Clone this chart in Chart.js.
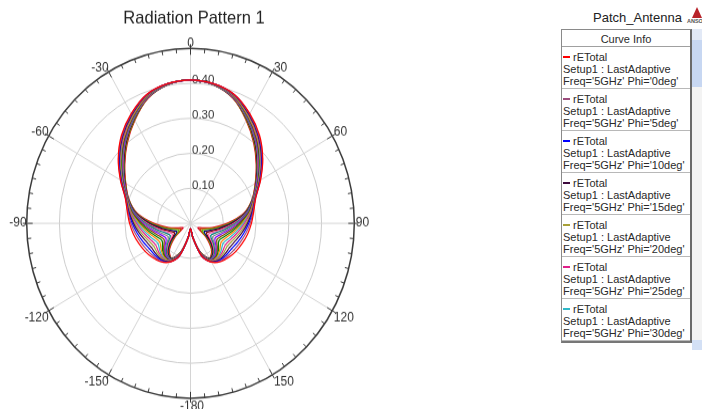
<!DOCTYPE html>
<html><head><meta charset="utf-8">
<script src="https://cdn.jsdelivr.net/npm/chart.js@4.4.1/dist/chart.umd.min.js"></script>
<style>
html,body{margin:0;padding:0;background:#fff;}
body{width:702px;height:409px;overflow:hidden;position:relative;font-family:"Liberation Sans",Arial,sans-serif;}
#plot{position:absolute;left:0;top:0;width:380px;height:383px;transform:scaleY(1.0679);transform-origin:0 0;}
#plot canvas{display:block;}
#ptitle{position:absolute;left:593px;top:10px;font-size:13px;line-height:15px;color:#222;white-space:nowrap;}
#tri{position:absolute;left:692px;top:7px;width:0;height:0;border-left:5px solid transparent;border-right:5px solid transparent;border-bottom:11px solid #b8232a;}
#lt{position:absolute;left:687px;top:18px;font-size:5.5px;font-weight:bold;color:#555;white-space:nowrap;}
#box{position:absolute;left:561px;top:29px;width:128px;height:311px;border:1px solid #8a8a8a;border-right:2px solid #6a6a6a;border-bottom:2px solid #777;background:#fff;font-size:11px;color:#2a2a2a;overflow:hidden;}
#hdr{height:16px;line-height:18px;text-align:center;border-bottom:1px solid #a0a0a0;}
.ent{height:37px;padding:4px 0 0 1px;border-bottom:1px solid #b8b8b8;line-height:12px;white-space:nowrap;}
.l1{position:relative;padding-left:10px;}
.dash{position:absolute;left:0;top:5px;width:7px;height:2px;}
#sb{position:absolute;left:692px;top:29px;width:10px;height:321px;background:#f3f3f3;}
#sbt{height:11px;background:#e2e9f6;}
#sbh{height:47px;background:#c7d7f2;}
#sbb{position:absolute;left:0;bottom:0;width:10px;height:10px;background:#d3e0f5;}
</style>
</head><body>
<div id="plot"><canvas id="c" width="380" height="383" style="width:380px;height:383px"></canvas></div>
<div id="ptitle">Patch_Antenna</div>
<div id="tri"></div><div id="lt">ANSOFT</div>
<div id="box"><div id="hdr">Curve Info</div><div id="entries"></div></div>
<div id="sb"><div id="sbt"></div><div id="sbh"></div><div id="sbb"></div></div>
<script>
// theta categories, clockwise from top (0 deg)
const thetaCategories = ['0','10','20','30','40','50','60','70','80','90','100','110','120','130','140','150','160','170','180','-170','-160','-150','-140','-130','-120','-110','-100','-90','-80','-70','-60','-50','-40','-30','-20','-10'];
const thetaLabels = ['0','30','60','90','120','150','-180','-150','-120','-90','-60','-30'];
const radialTickValues = [0.1,0.2,0.3,0.4];
const radialTickLabels = ['0.10','0.20','0.30','0.40'];
const phis = [0,5,10,15,20,25,30,35,40,45,50,55,60,65,70,75,80,85,90];
const colors = ['#ff0000','#9c4c7c','#0000ff','#3e0a3e','#a8a038','#e0208a','#30b8c8','#ff8000','#008000','#804000','#8000ff','#808080','#008080','#ff60b0','#800000','#000080','#60c000','#c04000','#e00020'];

// rETotal for each Phi cut, values at thetaCategories
const phi0  = [0.410,0.405,0.392,0.362,0.328,0.288,0.247,0.212,0.196,0.186,0.177,0.168,0.160,0.152,0.143,0.128,0.100,0.042,0.015,0.042,0.100,0.128,0.143,0.152,0.160,0.168,0.177,0.186,0.196,0.212,0.247,0.288,0.328,0.362,0.392,0.405];
const phi5  = [0.410,0.405,0.391,0.361,0.326,0.287,0.246,0.211,0.194,0.182,0.171,0.161,0.153,0.147,0.141,0.127,0.099,0.042,0.015,0.042,0.099,0.127,0.141,0.147,0.153,0.161,0.171,0.182,0.194,0.211,0.246,0.287,0.326,0.361,0.391,0.405];
const phi10 = [0.410,0.405,0.391,0.360,0.325,0.285,0.245,0.211,0.193,0.178,0.165,0.154,0.145,0.142,0.138,0.127,0.099,0.042,0.015,0.042,0.099,0.127,0.138,0.142,0.145,0.154,0.165,0.178,0.193,0.211,0.245,0.285,0.325,0.360,0.391,0.405];
const phi15 = [0.410,0.405,0.390,0.358,0.323,0.284,0.244,0.210,0.191,0.174,0.159,0.146,0.138,0.137,0.136,0.126,0.098,0.042,0.015,0.042,0.098,0.126,0.136,0.137,0.138,0.146,0.159,0.174,0.191,0.210,0.244,0.284,0.323,0.358,0.390,0.405];
const phi20 = [0.410,0.405,0.389,0.357,0.322,0.282,0.243,0.209,0.189,0.170,0.153,0.139,0.130,0.132,0.133,0.125,0.097,0.042,0.015,0.042,0.097,0.125,0.133,0.132,0.130,0.139,0.153,0.170,0.189,0.209,0.243,0.282,0.322,0.357,0.389,0.405];
const phi25 = [0.410,0.405,0.389,0.356,0.320,0.281,0.242,0.209,0.187,0.165,0.147,0.132,0.123,0.127,0.131,0.124,0.097,0.042,0.015,0.042,0.097,0.124,0.131,0.127,0.123,0.132,0.147,0.165,0.187,0.209,0.242,0.281,0.320,0.356,0.389,0.405];
const phi30 = [0.410,0.404,0.388,0.355,0.319,0.279,0.241,0.208,0.186,0.161,0.141,0.125,0.115,0.122,0.129,0.124,0.096,0.042,0.015,0.042,0.096,0.124,0.129,0.122,0.115,0.125,0.141,0.161,0.186,0.208,0.241,0.279,0.319,0.355,0.388,0.404];
const phi35 = [0.410,0.404,0.387,0.353,0.317,0.278,0.240,0.207,0.184,0.157,0.135,0.117,0.108,0.117,0.126,0.123,0.095,0.042,0.015,0.042,0.095,0.123,0.126,0.117,0.108,0.117,0.135,0.157,0.184,0.207,0.240,0.278,0.317,0.353,0.387,0.404];
const phi40 = [0.410,0.404,0.387,0.352,0.316,0.276,0.239,0.207,0.182,0.153,0.129,0.110,0.100,0.112,0.124,0.122,0.095,0.042,0.015,0.042,0.095,0.122,0.124,0.112,0.100,0.110,0.129,0.153,0.182,0.207,0.239,0.276,0.316,0.352,0.387,0.404];
const phi45 = [0.410,0.404,0.386,0.351,0.314,0.275,0.238,0.206,0.181,0.149,0.123,0.103,0.093,0.107,0.122,0.122,0.094,0.041,0.015,0.041,0.094,0.122,0.122,0.107,0.093,0.103,0.123,0.149,0.181,0.206,0.238,0.275,0.314,0.351,0.386,0.404];
const phi50 = [0.410,0.404,0.385,0.350,0.312,0.274,0.236,0.205,0.179,0.145,0.116,0.096,0.086,0.102,0.119,0.121,0.093,0.041,0.015,0.041,0.093,0.121,0.119,0.102,0.086,0.096,0.116,0.145,0.179,0.205,0.236,0.274,0.312,0.350,0.385,0.404];
const phi55 = [0.410,0.404,0.385,0.349,0.311,0.272,0.235,0.205,0.177,0.141,0.110,0.089,0.078,0.097,0.117,0.120,0.093,0.041,0.015,0.041,0.093,0.120,0.117,0.097,0.078,0.089,0.110,0.141,0.177,0.205,0.235,0.272,0.311,0.349,0.385,0.404];
const phi60 = [0.410,0.403,0.384,0.347,0.309,0.271,0.234,0.204,0.175,0.137,0.104,0.081,0.071,0.092,0.114,0.119,0.092,0.041,0.015,0.041,0.092,0.119,0.114,0.092,0.071,0.081,0.104,0.137,0.175,0.204,0.234,0.271,0.309,0.347,0.384,0.403];
const phi65 = [0.410,0.403,0.383,0.346,0.308,0.269,0.233,0.203,0.174,0.133,0.098,0.074,0.063,0.087,0.112,0.119,0.091,0.041,0.015,0.041,0.091,0.119,0.112,0.087,0.063,0.074,0.098,0.133,0.174,0.203,0.233,0.269,0.308,0.346,0.383,0.403];
const phi70 = [0.410,0.403,0.383,0.345,0.306,0.268,0.232,0.203,0.172,0.128,0.092,0.067,0.056,0.082,0.110,0.118,0.091,0.041,0.015,0.041,0.091,0.118,0.110,0.082,0.056,0.067,0.092,0.128,0.172,0.203,0.232,0.268,0.306,0.345,0.383,0.403];
const phi75 = [0.410,0.403,0.382,0.344,0.305,0.266,0.231,0.202,0.170,0.124,0.086,0.060,0.048,0.077,0.107,0.117,0.090,0.041,0.015,0.041,0.090,0.117,0.107,0.077,0.048,0.060,0.086,0.124,0.170,0.202,0.231,0.266,0.305,0.344,0.382,0.403];
const phi80 = [0.410,0.403,0.381,0.342,0.303,0.265,0.230,0.201,0.169,0.120,0.080,0.052,0.041,0.072,0.105,0.116,0.089,0.041,0.015,0.041,0.089,0.116,0.105,0.072,0.041,0.052,0.080,0.120,0.169,0.201,0.230,0.265,0.303,0.342,0.381,0.403];
const phi85 = [0.410,0.403,0.381,0.341,0.302,0.263,0.229,0.201,0.167,0.116,0.074,0.045,0.033,0.067,0.102,0.116,0.089,0.041,0.015,0.041,0.089,0.116,0.102,0.067,0.033,0.045,0.074,0.116,0.167,0.201,0.229,0.263,0.302,0.341,0.381,0.403];
const phi90 = [0.410,0.402,0.380,0.340,0.300,0.262,0.228,0.200,0.165,0.112,0.068,0.038,0.026,0.062,0.100,0.115,0.088,0.040,0.015,0.040,0.088,0.115,0.100,0.062,0.026,0.038,0.068,0.112,0.165,0.200,0.228,0.262,0.300,0.340,0.380,0.402];
const series = [phi0,phi5,phi10,phi15,phi20,phi25,phi30,phi35,phi40,phi45,phi50,phi55,phi60,phi65,phi70,phi75,phi80,phi85,phi90];

const FONT = '"Liberation Sans", Arial, sans-serif';

const polarDecor = {
  id: 'polarDecor',
  beforeDatasetsDraw(chart) {
    const s = chart.scales.r, ctx = chart.ctx, R = s.drawingArea;
    ctx.save();
    ctx.strokeStyle = '#3a3a3a'; ctx.lineWidth = 1;
    for (let d = 0; d < 360; d += 5) {
      const major = d % 30 === 0;
      const a = s.getPointPosition(d / 10, R - (major ? 6 : 4));
      const b = s.getPointPosition(d / 10, R + (major ? 4 : 0));
      ctx.beginPath(); ctx.moveTo(a.x, a.y); ctx.lineTo(b.x, b.y); ctx.stroke();
    }
    ctx.fillStyle = '#333';
    ctx.font = '11.5px ' + FONT;
    ctx.textAlign = 'left'; ctx.textBaseline = 'middle';
    radialTickValues.forEach((v, i) => {
      const y = s.yCenter - s.getDistanceFromCenterForValue(v);
      ctx.fillText(radialTickLabels[i], s.xCenter + 1.5, y - 3);
    });
    ctx.font = '12px ' + FONT;
    thetaLabels.forEach((t, j) => {
      const deg = j * 30;
      const p = s.getPointPosition(j * 3, R);
      let align, dx, dy;
      if (deg === 0) { align = 'center'; dx = 0; dy = -5; }
      else if (deg === 180) { align = 'center'; dx = 1.5; dy = 7.3; }
      else {
        align = deg < 180 ? 'left' : 'right';
        dx = deg < 180 ? 1.5 : 0;
        dy = (deg === 90 || deg === 270) ? 0 : ((deg < 90 || deg > 270) ? -4 : 6.3);
      }
      ctx.textAlign = align;
      ctx.fillText(t, p.x + dx, p.y + dy);
    });
    ctx.restore();
  }
};

new Chart(document.getElementById('c'), {
  type: 'radar',
  data: {
    labels: thetaCategories,
    datasets: series.map((d, i) => ({
      label: "Phi='" + phis[i] + "deg'",
      data: d,
      borderColor: colors[i],
      backgroundColor: colors[i],
      borderWidth: 1.2,
      pointRadius: 0,
      pointHitRadius: 0,
      fill: false,
      tension: 0.3,
      clip: false
    }))
  },
  options: {
    responsive: false,
    animation: false,
    devicePixelRatio: 1,
    events: [],
    layout: { padding: { left: 8 } },
    plugins: {
      legend: { display: false },
      tooltip: { enabled: false },
      title: {
        display: true, text: 'Radiation Pattern 1', fullSize: false,
        color: '#222', font: { family: FONT, size: 16.5, weight: 'normal' },
        padding: { top: 8, bottom: 0 }
      }
    },
    scales: {
      r: {
        min: 0, max: 0.5, startAngle: 0,
        ticks: { display: false, stepSize: 0.1 },
        grid: {
          circular: true,
          color: (c) => (c.tick && c.tick.value > 0.45) ? '#3a3a3a' : '#cdcdcd',
          lineWidth: (c) => (c.tick && c.tick.value > 0.45) ? 1.5 : 1
        },
        angleLines: {
          display: true,
          color: (c) => c.index % 3 === 0 ? '#d4d4d4' : 'rgba(0,0,0,0)',
          lineWidth: (c) => c.index % 3 === 0 ? 1 : 0
        },
        pointLabels: { display: false },
        afterFit: (s) => { s.xCenter = 190.5; s.yCenter = 209.1; s.drawingArea = 163.8; }
      }
    }
  },
  plugins: [polarDecor]
});

// Curve Info legend (first visible entries)
const entries = document.getElementById('entries');
for (let i = 0; i < 7; i++) {
  const e = document.createElement('div');
  e.className = 'ent';
  e.innerHTML = '<div class="l1"><span class="dash" style="background:' + colors[i] + '"></span>rETotal</div>' +
    '<div>Setup1 : LastAdaptive</div>' +
    "<div>Freq='5GHz' Phi='" + phis[i] + "deg'</div>";
  entries.appendChild(e);
}
</script>
</body></html>
